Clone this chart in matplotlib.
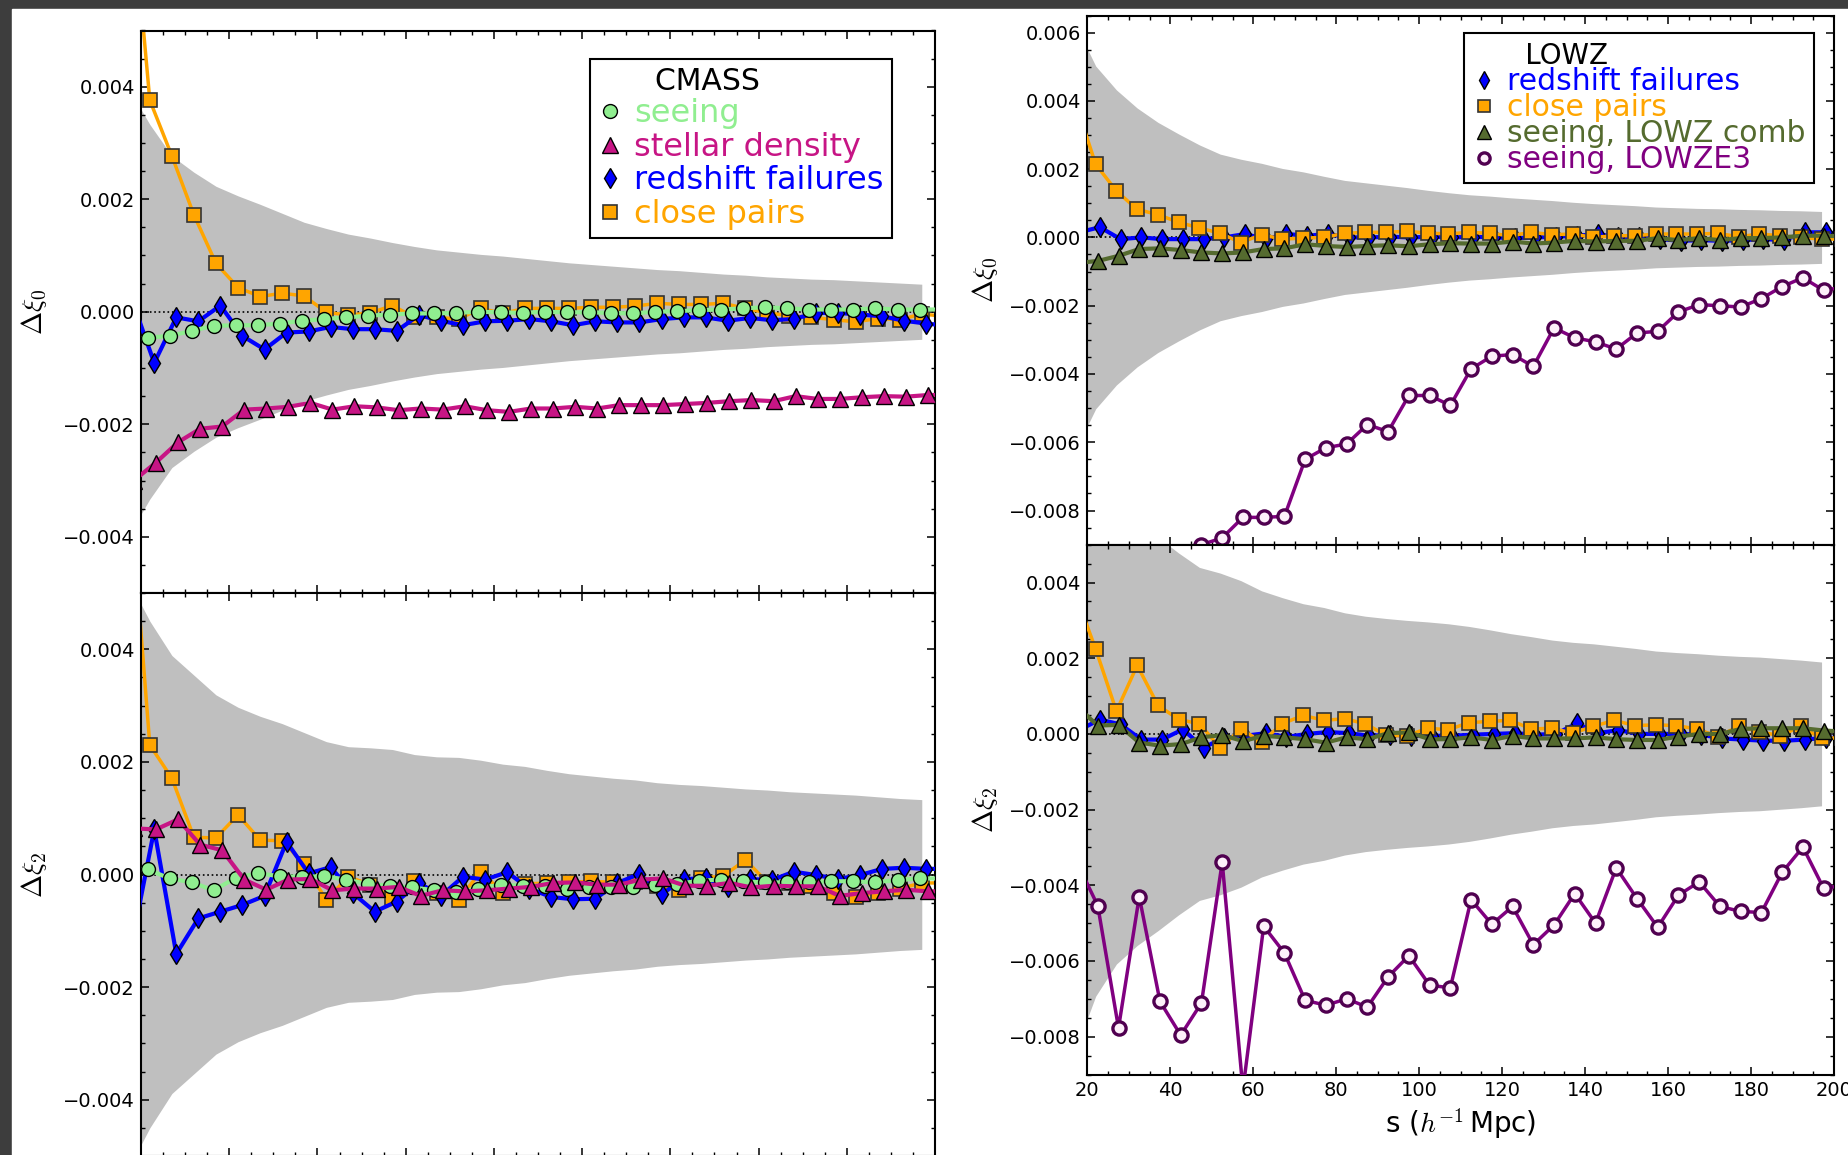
#!/usr/bin/env python3
"""
Systematic-weight residuals of the correlation function multipoles.

Left block  : CMASS  Delta xi_0 / Delta xi_2 for the seeing, stellar density,
              redshift-failure and close-pair weights.
Right block : LOWZ   Delta xi_0 / Delta xi_2 for redshift failures, close
              pairs and the two seeing tests (LOWZ combined, LOWZE3).

Grey bands are the +/-1 sigma mock scatter in each s bin.  All residuals
below are stored in units of 1e-3.
"""

import numpy as np
import matplotlib.pyplot as plt
from matplotlib.lines import Line2D
from matplotlib.patches import Rectangle
from matplotlib.ticker import FuncFormatter, MultipleLocator

plt.rcParams["mathtext.fontset"] = "cm"

W, H = 1848, 1155

# ==========================================
# 1. Data
# ==========================================

# bin centres (h^-1 Mpc); the outermost bins fall just outside 20-200
S_BINS = np.arange(17, 203, 5)        # 17 ... 202
S_BAND = np.arange(17, 198, 5)        # 17 ... 197

# --- CMASS, monopole ---
CMASS_XI0_CLOSE = [8.1, 3.76, 2.77, 1.72, 0.86, 0.43, 0.27, 0.33, 0.28, -0.01,
                   -0.06, -0.02, 0.11, -0.10, -0.10, -0.13, 0.06, -0.03, 0.06,
                   0.06, 0.06, 0.08, 0.08, 0.10, 0.15, 0.13, 0.13, 0.15, 0.06,
                   -0.02, -0.07, -0.10, -0.14, -0.18, -0.12, -0.14, -0.04, -0.08]
CMASS_XI0_SEEING = [-0.50, -0.46, -0.43, -0.34, -0.25, -0.24, -0.24, -0.21,
                    -0.16, -0.13, -0.10, -0.07, -0.05, -0.03, -0.03, -0.02,
                    0.00, -0.01, -0.02, 0.00, -0.01, -0.01, -0.02, -0.03, 0.00,
                    0.01, 0.03, 0.04, 0.06, 0.08, 0.06, 0.04, 0.04, 0.04, 0.06,
                    0.04, 0.04, 0.04]
CMASS_XI0_REDSHIFT = [0.20, -0.91, -0.10, -0.17, 0.11, -0.43, -0.67, -0.37,
                      -0.35, -0.27, -0.31, -0.31, -0.34, -0.06, -0.16, -0.24,
                      -0.17, -0.16, -0.13, -0.17, -0.24, -0.17, -0.19, -0.19,
                      -0.13, -0.10, -0.10, -0.16, -0.11, -0.15, -0.13, -0.02,
                      -0.02, -0.05, -0.08, -0.16, -0.21, -0.25]
CMASS_XI0_STELLAR = [-3.00, -2.68, -2.32, -2.08, -2.04, -1.74, -1.72, -1.69,
                     -1.62, -1.74, -1.68, -1.70, -1.75, -1.72, -1.74, -1.68,
                     -1.75, -1.78, -1.72, -1.72, -1.69, -1.72, -1.66, -1.66,
                     -1.66, -1.64, -1.62, -1.59, -1.57, -1.59, -1.50, -1.55,
                     -1.55, -1.52, -1.50, -1.51, -1.48, -1.48]
CMASS_XI0_BAND = [4.00, 3.33, 2.77, 2.48, 2.23, 2.06, 1.91, 1.75, 1.59, 1.48,
                  1.38, 1.31, 1.23, 1.16, 1.10, 1.06, 1.02, 0.99, 0.95, 0.91,
                  0.87, 0.84, 0.81, 0.78, 0.75, 0.73, 0.70, 0.67, 0.65, 0.62,
                  0.60, 0.58, 0.57, 0.55, 0.53, 0.51, 0.49]

# --- CMASS, quadrupole ---
CMASS_XI2_CLOSE = [7.3, 2.30, 1.71, 0.66, 0.65, 1.06, 0.61, 0.60, 0.18, -0.45,
                   -0.04, -0.18, -0.41, -0.12, -0.33, -0.45, 0.05, -0.32, -0.17,
                   -0.15, -0.14, -0.12, -0.14, -0.14, -0.20, -0.27, -0.06,
                   -0.03, 0.26, -0.14, -0.15, -0.20, -0.33, -0.40, -0.33,
                   -0.25, -0.15, -0.15]
CMASS_XI2_SEEING = [0.10, 0.09, -0.07, -0.14, -0.28, -0.06, 0.02, -0.03,
                    -0.04, -0.03, -0.09, -0.17, -0.20, -0.23, -0.28, -0.31,
                    -0.25, -0.18, -0.20, -0.20, -0.25, -0.22, -0.22, -0.22,
                    -0.18, -0.17, -0.11, -0.09, -0.12, -0.14, -0.14, -0.14,
                    -0.12, -0.12, -0.14, -0.10, -0.07, -0.07]
CMASS_XI2_REDSHIFT = [-1.20, 0.80, -1.41, -0.78, -0.66, -0.54, -0.38, 0.58,
                      0.02, 0.13, -0.33, -0.66, -0.48, -0.15, -0.38, -0.04,
                      -0.09, 0.04, -0.25, -0.40, -0.44, -0.43, -0.15, 0.01,
                      -0.35, -0.08, -0.07, -0.22, -0.08, -0.10, 0.05, -0.01,
                      -0.08, -0.01, 0.10, 0.12, 0.10, 0.10]
CMASS_XI2_STELLAR = [0.82, 0.80, 0.98, 0.53, 0.43, -0.09, -0.27, -0.09, -0.08,
                     -0.28, -0.25, -0.25, -0.22, -0.38, -0.28, -0.30, -0.28,
                     -0.25, -0.22, -0.15, -0.14, -0.18, -0.18, -0.09, -0.07,
                     -0.20, -0.20, -0.15, -0.23, -0.20, -0.21, -0.21, -0.38,
                     -0.33, -0.30, -0.27, -0.30, -0.30]
CMASS_XI2_BAND = [5.25, 4.50, 3.89, 3.54, 3.19, 2.97, 2.81, 2.68, 2.52, 2.36,
                  2.27, 2.25, 2.22, 2.13, 2.09, 2.08, 2.03, 1.96, 1.92, 1.85,
                  1.79, 1.75, 1.71, 1.68, 1.63, 1.60, 1.58, 1.55, 1.52, 1.50,
                  1.47, 1.45, 1.43, 1.41, 1.38, 1.35, 1.33]

# --- LOWZ, monopole ---
LOWZ_XI0_REDSHIFT = [0.15, 0.30, -0.05, 0.00, -0.05, -0.05, -0.05, 0.00, 0.10,
                     -0.05, 0.10, 0.05, 0.10, 0.00, 0.00, 0.02, 0.00, 0.02,
                     0.00, 0.02, 0.00, -0.02, 0.00, 0.02, 0.05, 0.10, 0.00,
                     0.02, -0.05, -0.10, -0.08, -0.10, -0.08, -0.05, -0.08,
                     0.15, 0.15, 0.10]
LOWZ_XI0_CLOSE = [4.0, 2.14, 1.36, 0.82, 0.67, 0.44, 0.28, 0.12, -0.15, 0.08,
                  -0.05, -0.02, 0.00, 0.12, 0.15, 0.15, 0.18, 0.13, 0.10, 0.15,
                  0.12, 0.05, 0.15, 0.08, 0.10, 0.00, 0.05, 0.05, 0.10, 0.10,
                  0.10, 0.12, 0.02, 0.10, 0.05, 0.00, -0.05, -0.05]
LOWZ_XI0_COMB = [-0.75, -0.69, -0.54, -0.34, -0.32, -0.37, -0.44, -0.47,
                 -0.44, -0.34, -0.32, -0.20, -0.25, -0.28, -0.25, -0.23, -0.26,
                 -0.20, -0.17, -0.18, -0.18, -0.12, -0.18, -0.15, -0.10, -0.12,
                 -0.10, -0.10, -0.02, -0.08, -0.02, -0.08, -0.02, -0.02, 0.00,
                 0.05, 0.05, 0.03]
LOWZ_XI0_E3 = [np.nan, np.nan, np.nan, np.nan, np.nan, -9.6, -9.0, -8.8, -8.2,
               -8.2, -8.17, -6.5, -6.16, -6.05, -5.48, -5.69, -4.63, -4.63,
               -4.92, -3.85, -3.48, -3.43, -3.78, -2.65, -2.94, -3.06, -3.27,
               -2.80, -2.75, -2.18, -1.97, -2.00, -2.04, -1.79, -1.44, -1.18,
               -1.55, -1.45]
LOWZ_XI0_BAND = [6.27, 5.02, 4.32, 3.79, 3.37, 3.03, 2.71, 2.44, 2.29, 2.17,
                 2.02, 1.92, 1.79, 1.67, 1.60, 1.53, 1.46, 1.38, 1.31, 1.25,
                 1.21, 1.16, 1.12, 1.08, 1.03, 0.99, 0.96, 0.93, 0.89, 0.87,
                 0.85, 0.84, 0.82, 0.81, 0.79, 0.78, 0.76]

# --- LOWZ, quadrupole ---
LOWZ_XI2_REDSHIFT = [0.10, 0.38, 0.25, -0.15, -0.15, 0.12, -0.36, -0.10,
                     -0.05, 0.02, -0.08, 0.00, 0.05, 0.02, -0.05, -0.02, -0.05,
                     -0.05, -0.05, -0.02, 0.00, 0.02, -0.02, 0.00, 0.28, 0.02,
                     0.10, 0.00, 0.00, 0.00, -0.02, -0.12, -0.15, -0.18, -0.18,
                     -0.15, -0.10, -0.10]
LOWZ_XI2_CLOSE = [3.73, 2.24, 0.60, 1.81, 0.76, 0.38, 0.27, -0.37, 0.13, -0.21,
                  0.27, 0.49, 0.36, 0.40, 0.27, -0.04, -0.05, 0.15, 0.11, 0.30,
                  0.33, 0.36, 0.13, 0.15, 0.02, 0.20, 0.36, 0.22, 0.24, 0.22,
                  0.13, -0.07, 0.20, 0.06, -0.05, 0.20, -0.12, -0.10]
LOWZ_XI2_COMB = [0.72, 0.22, 0.24, -0.23, -0.31, -0.27, -0.09, -0.03, -0.19,
                 -0.05, -0.09, -0.14, -0.23, -0.09, -0.14, 0.02, 0.04, -0.14,
                 -0.14, -0.09, -0.16, -0.05, -0.12, -0.12, -0.12, -0.09, -0.14,
                 -0.16, -0.16, -0.07, 0.00, 0.00, 0.13, 0.15, 0.15, 0.15, 0.09,
                 0.06]
LOWZ_XI2_E3 = [-3.40, -4.54, -7.77, -4.30, -7.07, -7.96, -7.11, -3.39, -9.40,
               -5.08, -5.79, -7.04, -7.17, -7.00, -7.22, -6.42, -5.86, -6.64,
               -6.71, -4.38, -5.03, -4.56, -5.57, -5.05, -4.22, -5.00, -3.54,
               -4.35, -5.11, -4.26, -3.91, -4.56, -4.69, -4.72, -3.66, -2.99,
               -4.08, -4.00]
LOWZ_XI2_BAND = [8.40, 6.93, 6.08, 5.59, 5.20, 4.78, 4.40, 4.25, 4.05, 3.78,
                 3.60, 3.44, 3.34, 3.20, 3.11, 3.05, 3.00, 2.96, 2.91, 2.84,
                 2.75, 2.65, 2.57, 2.48, 2.42, 2.38, 2.32, 2.26, 2.19, 2.15,
                 2.12, 2.08, 2.05, 2.03, 1.99, 1.95, 1.90]

# ==========================================
# 2. Series styles (x shift keeps overlapping points apart)
# ==========================================

SERIES = {
    "seeing": dict(label="seeing", shift=-0.5,
                   style=dict(color="#90ee90", marker="o", lw=3, ms=10,
                              mec="k", mew=1.0)),
    "stellar": dict(label="stellar density", shift=1.4,
                    style=dict(color="#c71585", marker="^", lw=3, ms=11.5,
                               mec="k", mew=1.0)),
    "redshift": dict(label="redshift failures", shift=1.0,
                     style=dict(color="blue", marker="d", lw=3, ms=10.5,
                                mec="k", mew=1.0)),
    "close": dict(label="close pairs", shift=0.0,
                  style=dict(color="orange", marker="s", lw=2.5, ms=10.5,
                             mec="#333333", mew=1.2)),
    "comb": dict(label="seeing, LOWZ comb", shift=0.5,
                 style=dict(color="#556b2f", marker="^", lw=3, ms=11.5,
                            mec="k", mew=1.0)),
    "e3": dict(label="seeing, LOWZE3", shift=0.5,
               style=dict(color="purple", marker="o", lw=2.5, ms=9.5,
                          mfc="#fdf0fa", mec="#500050", mew=2.4)),
}


def _tick_fmt(v, _pos):
    if abs(v) < 1e-12:
        v = 0.0
    return f"{v:.3f}".replace("-", "\u2212")


def px_axes(fig, x0, y0, x1, y1):
    """Axes from pixel box (x0, y0) top-left to (x1, y1) bottom-right."""
    return fig.add_axes([x0 / W, 1 - y1 / H, (x1 - x0) / W, (y1 - y0) / H])


def style_axes(ax, ylim, ylabel, label_x, show_xlabels):
    ax.set_xlim(20, 200)
    ax.set_ylim(*ylim)
    ax.xaxis.set_major_locator(MultipleLocator(20))
    ax.xaxis.set_minor_locator(MultipleLocator(5))
    ax.yaxis.set_major_locator(MultipleLocator(0.002))
    ax.yaxis.set_minor_locator(MultipleLocator(0.0005))
    ax.yaxis.set_major_formatter(FuncFormatter(_tick_fmt))
    ax.tick_params(which="both", direction="in", top=True, right=True,
                   labelsize=14, pad=4.5, labelbottom=show_xlabels)
    ax.tick_params(which="major", length=5.8, width=1.1)
    ax.tick_params(which="minor", length=2.9, width=1.0)
    for sp in ax.spines.values():
        sp.set_linewidth(1.5)
    ax.set_ylabel(ylabel, fontsize=20)
    ax.yaxis.set_label_coords(label_x, 0.5)


def draw_panel(ax, band, series):
    b = np.asarray(band) * 1e-3
    ax.fill_between(S_BAND, -b, b, color="#bfbfbf", lw=0, zorder=0.5)
    ax.axhline(0, color="k", ls=":", lw=1.2, zorder=1)
    for z, (key, vals) in enumerate(series):
        cfg = SERIES[key]
        ax.plot(S_BINS + cfg["shift"], np.asarray(vals) * 1e-3,
                zorder=2 + z, **cfg["style"])


def add_legend(ax, keys, title, anchor, fontsize, title_size, spacing, mscale,
               borderpad=0.3):
    handles = []
    for key in keys:
        st = dict(SERIES[key]["style"])
        st.pop("lw")
        handles.append(Line2D([], [], ls="none", **st))
    labels = [SERIES[k]["label"] for k in keys]
    leg = ax.legend(handles, labels, loc="upper right", bbox_to_anchor=anchor,
                    borderaxespad=0, fontsize=fontsize, title=title,
                    title_fontsize=title_size, alignment="left",
                    labelspacing=spacing, borderpad=borderpad,
                    handlelength=0.8, handletextpad=0.35, markerscale=mscale,
                    numpoints=1, fancybox=False, framealpha=1, edgecolor="k")
    leg.get_frame().set_linewidth(1.5)
    leg.set_zorder(20)
    for txt, key in zip(leg.get_texts(), keys):
        txt.set_color(SERIES[key]["style"]["color"])


# ==========================================
# 3. Figure
# ==========================================

def main() -> None:
    fig = plt.figure(figsize=(W / 100, H / 100), dpi=100, facecolor="#3d3d3d")
    # white page behind both blocks (drawn under the axes)
    fig.patches.append(Rectangle((12 / W, 0), 1 - 12 / W, 1 - 8.5 / H,
                                 transform=fig.transFigure, color="white",
                                 zorder=-1))

    # CMASS
    ax_c0 = px_axes(fig, 141, 30.5, 935, 593)
    ax_c2 = px_axes(fig, 141, 593, 935, 1156)
    draw_panel(ax_c0, CMASS_XI0_BAND, [("close", CMASS_XI0_CLOSE),
                                       ("redshift", CMASS_XI0_REDSHIFT),
                                       ("seeing", CMASS_XI0_SEEING),
                                       ("stellar", CMASS_XI0_STELLAR)])
    draw_panel(ax_c2, CMASS_XI2_BAND, [("close", CMASS_XI2_CLOSE),
                                       ("redshift", CMASS_XI2_REDSHIFT),
                                       ("seeing", CMASS_XI2_SEEING),
                                       ("stellar", CMASS_XI2_STELLAR)])
    style_axes(ax_c0, (-0.005, 0.005), r"$\Delta\xi_0$", -0.116, False)
    style_axes(ax_c2, (-0.005, 0.005), r"$\Delta\xi_2$", -0.116, False)
    add_legend(ax_c0, ["seeing", "stellar", "redshift", "close"],
               "      CMASS", (0.9455, 0.950), 23, 21.5, 0.08, 1.0,
               borderpad=0.25)

    # LOWZ
    ax_l0 = px_axes(fig, 1087.4, 15.5, 1834, 544.7)
    ax_l2 = px_axes(fig, 1087.4, 544.7, 1834, 1074.5)
    draw_panel(ax_l0, LOWZ_XI0_BAND, [("redshift", LOWZ_XI0_REDSHIFT),
                                      ("close", LOWZ_XI0_CLOSE),
                                      ("comb", LOWZ_XI0_COMB),
                                      ("e3", LOWZ_XI0_E3)])
    draw_panel(ax_l2, LOWZ_XI2_BAND, [("redshift", LOWZ_XI2_REDSHIFT),
                                      ("close", LOWZ_XI2_CLOSE),
                                      ("comb", LOWZ_XI2_COMB),
                                      ("e3", LOWZ_XI2_E3)])
    style_axes(ax_l0, (-0.009, 0.0065), r"$\Delta\xi_0$", -0.117, False)
    style_axes(ax_l2, (-0.009, 0.005), r"$\Delta\xi_2$", -0.117, True)
    ax_l2.set_xlabel(r"s ($h^{-1}\,$Mpc)", fontsize=20, labelpad=5)
    add_legend(ax_l0, ["redshift", "close", "comb", "e3"],
               "      LOWZ", (0.9736, 0.9668), 21.5, 20, -0.1, 0.85)

    fig.savefig("out.png", dpi=100, facecolor=fig.get_facecolor())
    plt.close(fig)


if __name__ == "__main__":
    main()
